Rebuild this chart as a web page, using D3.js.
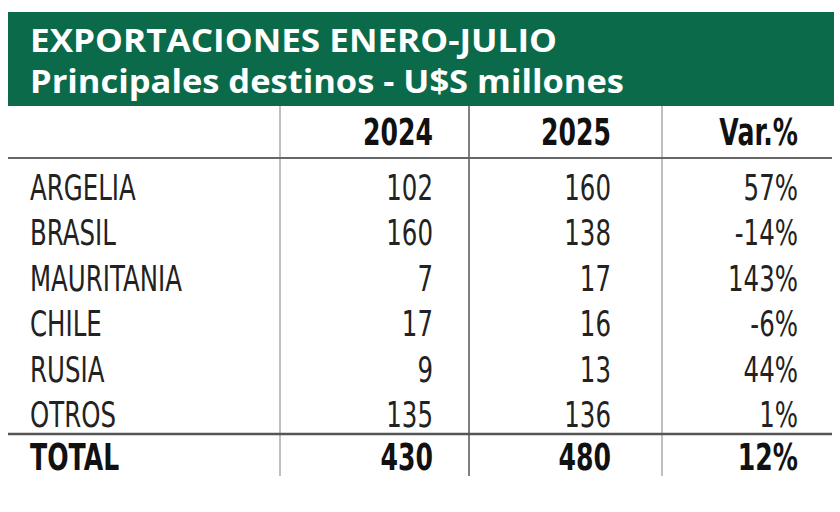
<!DOCTYPE html>
<html>
<head>
<meta charset="utf-8">
<script src="https://d3js.org/d3.v7.min.js"></script>
<style>
  body { margin: 0; background: #fff; }
  text { font-family: "DejaVu Sans", sans-serif; }
</style>
</head>
<body>
<div id="chart"></div>
<script>
// data
var titleLines = ["EXPORTACIONES ENERO-JULIO", "Principales destinos - U$S millones"];
var headers = ["2024", "2025", "Var.%"];
var countries = ["ARGELIA", "BRASIL", "MAURITANIA", "CHILE", "RUSIA", "OTROS"];
var values2024 = [102, 160, 7, 17, 9, 135];
var values2025 = [160, 138, 17, 16, 13, 136];
var variation = ["57%", "-14%", "143%", "-6%", "44%", "1%"];
var total = ["430", "480", "12%"];

var w = 840, h = 512;
var sx = 0.68; // horizontal squeeze to mimic a condensed face
var svg = d3.select("#chart").append("svg").attr("width", w).attr("height", h);

// header band
svg.append("rect").attr("x", 8).attr("y", 12).attr("width", 826).attr("height", 94)
  .attr("fill", "#0b6a4a");
svg.selectAll("text.title").data(titleLines).enter().append("text")
  .attr("class", "title")
  .attr("x", 30)
  .attr("y", function(d, i) { return 52 + i * 41; })
  .attr("fill", "#fff")
  .style("font-family", "'Open Sans', sans-serif")
  .attr("font-weight", "bold")
  .attr("font-size", 33)
  .attr("textLength", function(d, i) { return i == 0 ? 527 : 594; })
  .attr("lengthAdjust", "spacingAndGlyphs")
  .text(function(d) { return d; });

// column dividers
var dividers = [280, 469, 662];
svg.selectAll("line.div").data(dividers).enter().append("line")
  .attr("x1", function(d) { return d; }).attr("x2", function(d) { return d; })
  .attr("y1", 106).attr("y2", 476)
  .attr("stroke", function(d, i) { return i == 1 ? "#555" : "#aaa"; })
  .attr("stroke-width", 1.5);

// horizontal rules
svg.append("line").attr("x1", 8).attr("x2", 832).attr("y1", 158).attr("y2", 158)
  .attr("stroke", "#666").attr("stroke-width", 2);
svg.append("line").attr("x1", 8).attr("x2", 832).attr("y1", 434).attr("y2", 434)
  .attr("stroke", "#555").attr("stroke-width", 2.5);

var colRight = [433, 611, 798];

function squeezed(sel, x, y) {
  return sel.attr("transform", function(d, i) {
    return "translate(" + x(d, i) + "," + y(d, i) + ") scale(" + sx + ",1)";
  });
}

// header row
squeezed(svg.selectAll("text.head").data(headers).enter().append("text"),
    function(d, i) { return colRight[i]; }, function() { return 145; })
  .attr("text-anchor", "end")
  .attr("font-weight", "bold")
  .attr("font-size", 37)
  .attr("fill", "#111")
  .text(function(d) { return d; });

// body rows
var y = d3.scalePoint().domain(countries).range([200, 427]);
var rows = countries.map(function(c, i) {
  return [c, values2024[i], values2025[i], variation[i]];
});
var g = svg.selectAll("g.row").data(rows).enter().append("g")
  .attr("transform", function(d) { return "translate(0," + y(d[0]) + ")"; });
squeezed(g.selectAll("text").data(function(d) { return d; }).enter().append("text"),
    function(d, i) { return i == 0 ? 30 : colRight[i - 1]; }, function() { return 0; })
  .attr("text-anchor", function(d, i) { return i == 0 ? "start" : "end"; })
  .attr("font-size", 36)
  .attr("fill", "#222")
  .text(function(d) { return d; });

// total row
var totalRow = ["TOTAL"].concat(total);
squeezed(svg.selectAll("text.total").data(totalRow).enter().append("text"),
    function(d, i) { return i == 0 ? 30 : colRight[i - 1]; }, function() { return 470; })
  .attr("text-anchor", function(d, i) { return i == 0 ? "start" : "end"; })
  .attr("font-weight", "bold")
  .attr("font-size", 37)
  .attr("fill", "#111")
  .text(function(d) { return d; });
</script>
</body>
</html>
